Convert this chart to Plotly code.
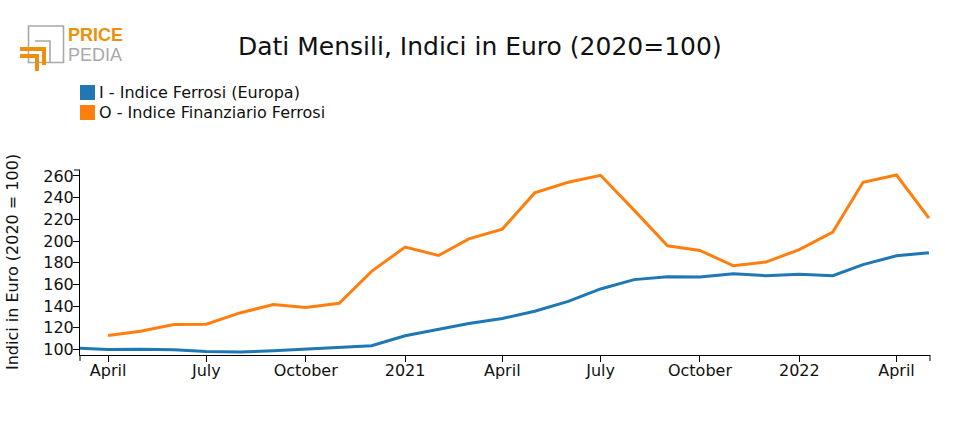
import plotly.graph_objects as go

# ---- data ----
dates_blue = ["2020-03-01", "2020-04-01", "2020-05-01", "2020-06-01", "2020-07-01", "2020-08-01",
              "2020-09-01", "2020-10-01", "2020-11-01", "2020-12-01", "2021-01-01", "2021-02-01",
              "2021-03-01", "2021-04-01", "2021-05-01", "2021-06-01", "2021-07-01", "2021-08-01",
              "2021-09-01", "2021-10-01", "2021-11-01", "2021-12-01", "2022-01-01", "2022-02-01",
              "2022-03-01", "2022-04-01", "2022-05-01"]
ferrosi_europa = [101.4, 100.0, 100.3, 99.8, 98.2, 97.6, 98.8, 100.1, 101.8, 103.4, 112.6, 118.4,
                  123.9, 128.5, 135.3, 144.4, 155.8, 164.4, 167.1, 166.8, 169.9, 168.0, 169.3,
                  168.0, 178.2, 186.4, 189.2]

dates_orange = dates_blue[1:]
finanziario_ferrosi = [112.9, 116.8, 123.0, 123.3, 133.7, 141.4, 138.6, 142.6, 172.0, 194.4,
                       186.7, 202.0, 211.0, 244.4, 254.2, 260.6, 228.5, 195.6, 191.3, 177.2,
                       180.6, 192.0, 208.2, 254.2, 260.9, 221.1]

tick_dates = ["2020-04-01", "2020-07-01", "2020-10-01", "2021-01-01", "2021-04-01",
              "2021-07-01", "2021-10-01", "2022-01-01", "2022-04-01"]
tick_labels = ["April", "July", "October", "2021", "April", "July", "October", "2022", "April"]
y_ticks = [100, 120, 140, 160, 180, 200, 220, 240, 260]

series_names = ["I - Indice Ferrosi (Europa)", "O - Indice Finanziario Ferrosi"]
colors = ["#1f77b4", "#ff7f0e"]

FONT = "DejaVu Sans"

# plot area in pixels
L, R, T, B = 80, 930, 170, 355
W, H = 960, 430


def px(x):
    return (x - L) / (R - L)


def py(y):
    return (B - y) / (B - T)


fig = go.Figure()
fig.add_trace(go.Scatter(x=dates_blue, y=ferrosi_europa, mode="lines", name=series_names[0],
                         line=dict(color=colors[0], width=3), showlegend=False))
fig.add_trace(go.Scatter(x=dates_orange, y=finanziario_ferrosi, mode="lines", name=series_names[1],
                         line=dict(color=colors[1], width=3), showlegend=False))

shapes = []
annotations = []

# legend (squares + text)
for i, (name, col) in enumerate(zip(series_names, colors)):
    top = 85 + i * 20
    shapes.append(dict(type="rect", xref="paper", yref="paper",
                       x0=px(80), x1=px(95), y0=py(top), y1=py(top + 15),
                       fillcolor=col, line=dict(width=0)))
    annotations.append(dict(xref="paper", yref="paper", x=px(97), y=py(top + 7.5),
                            xanchor="left", yanchor="middle", text=name, showarrow=False,
                            font=dict(family=FONT, size=16, color="#111")))

# title
annotations.append(dict(xref="paper", yref="paper", x=px(480), y=py(47),
                        xanchor="center", yanchor="middle",
                        text="Dati Mensili, Indici in Euro (2020=100)", showarrow=False,
                        font=dict(family=FONT, size=25, color="#111")))

# y-axis title
annotations.append(dict(xref="paper", yref="paper", x=px(12), y=py(262),
                        xanchor="center", yanchor="middle", textangle=-90,
                        text="Indici in Euro (2020 = 100)", showarrow=False,
                        font=dict(family=FONT, size=16, color="#111")))

# outer end ticks (d3 style)
shapes.append(dict(type="line", xref="paper", yref="paper", x0=px(74), x1=px(80),
                   y0=py(170), y1=py(170), line=dict(color="#000", width=1)))
shapes.append(dict(type="line", xref="paper", yref="paper", x0=px(80), x1=px(80),
                   y0=py(355), y1=py(361), line=dict(color="#000", width=1)))
shapes.append(dict(type="line", xref="paper", yref="paper", x0=px(930), x1=px(930),
                   y0=py(355), y1=py(361), line=dict(color="#000", width=1)))

# logo
grey = "#a9a9a9"
orange = "#f0900a"
shapes.append(dict(type="rect", xref="paper", yref="paper", x0=px(28.5), x1=px(63.5),
                   y0=py(26), y1=py(62.5), line=dict(color=grey, width=1.6)))
shapes.append(dict(type="path", xref="paper", yref="paper",
                   path=f"M {px(35)} {py(41)} L {px(50)} {py(41)} L {px(50)} {py(62.5)}",
                   line=dict(color=grey, width=1.6)))
shapes.append(dict(type="path", xref="paper", yref="paper",
                   path=f"M {px(20)} {py(49)} L {px(44)} {py(49)} L {px(44)} {py(65)}",
                   line=dict(color=orange, width=4)))
shapes.append(dict(type="path", xref="paper", yref="paper",
                   path=f"M {px(20)} {py(56)} L {px(37)} {py(56)} L {px(37)} {py(71)}",
                   line=dict(color=orange, width=4)))
annotations.append(dict(xref="paper", yref="paper", x=px(66), y=py(34.5),
                        xanchor="left", yanchor="middle", text="<b>PRICE</b>", showarrow=False,
                        height=14, valign="middle",
                        font=dict(family="Liberation Sans", size=18, color=orange)))
annotations.append(dict(xref="paper", yref="paper", x=px(66), y=py(55),
                        xanchor="left", yanchor="middle", text="PEDIA", showarrow=False,
                        height=14, valign="middle",
                        font=dict(family="Liberation Sans", size=18, color=grey)))

fig.update_layout(
    width=W, height=H,
    margin=dict(l=L, r=W - R, t=T, b=H - B, pad=0),
    plot_bgcolor="white", paper_bgcolor="white",
    font=dict(family=FONT, size=16, color="#111"),
    shapes=shapes, annotations=annotations,
    showlegend=False,
)
fig.update_xaxes(type="date", range=["2020-03-06", "2022-05-02"],
                 tickvals=tick_dates, ticktext=tick_labels,
                 showgrid=False, zeroline=False, showline=True, linecolor="#000", linewidth=1,
                 ticks="outside", ticklen=6, tickcolor="#000", ticklabelstandoff=-5,
                 tickfont=dict(family=FONT, size=16, color="#111"))
fig.update_yaxes(range=[94.9, 265.5], tickvals=y_ticks,
                 showgrid=False, zeroline=False, showline=True, linecolor="#000", linewidth=1,
                 ticks="outside", ticklen=6, tickcolor="#000", ticklabelstandoff=-4,
                 tickfont=dict(family=FONT, size=16, color="#111"))

fig.write_html("out.html", config={"displayModeBar": False},
               post_script="document.body.style.margin='0';")
